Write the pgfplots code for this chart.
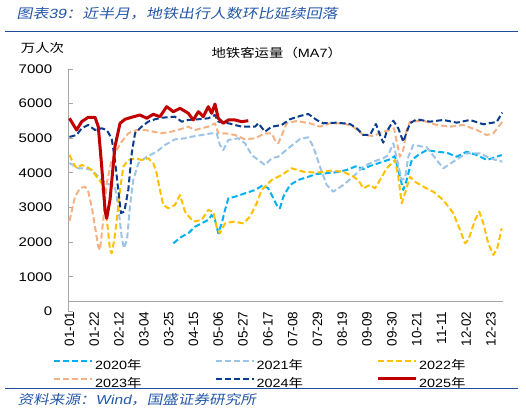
\documentclass[border=0pt]{standalone}
\usepackage{fontspec}
\usepackage{pgfplots}
\pgfplotsset{compat=1.18}
\setmainfont{Liberation Sans}[FakeStretch=1.2]
\newfontfamily\xlab{Liberation Sans}
\newfontfamily\cjk{Noto Sans CJK SC}[FakeStretch=1.2]
\newfontfamily\cjkit{Noto Sans CJK SC}[FakeStretch=1.2,FakeSlant=0.2]
\newfontfamily\latit{Liberation Sans}[FakeStretch=1.2,FakeSlant=0.2]
\definecolor{c20}{HTML}{00B0F0}
\definecolor{c21}{HTML}{9DC3E6}
\definecolor{c22}{HTML}{FFC000}
\definecolor{c23}{HTML}{F4B183}
\definecolor{c24}{HTML}{0B3B8C}
\definecolor{c25}{HTML}{C00000}
\definecolor{tblue}{HTML}{2457A7}
\definecolor{rblue}{HTML}{1F4E9C}
\definecolor{axgray}{HTML}{A6A6A6}
\begin{document}
\begin{tikzpicture}
\useasboundingbox (0pt,0pt) rectangle (526pt,413pt);
\begin{axis}[
  at={(68.3pt,101.5pt)}, anchor=south west,
  scale only axis, width=434.6pt, height=242.5pt,
  xmin=-1, xmax=367, ymin=0, ymax=7000,
  axis y line*=left, axis x line*=bottom,
  x axis line style={draw=none},
  y axis line style={-, draw=axgray, line width=1.2pt},
  ytick={0,1000,...,7000},
  xtick={0,21,42,63,84,105,126,147,168,189,210,231,252,273,294,315,336,357},
  xticklabels={01-01,01-22,02-12,03-04,03-25,04-15,05-06,05-27,06-17,07-08,07-29,08-19,09-09,09-30,10-21,11-11,12-02,12-23},
  xtick style={draw=none},
  ytick style={draw=axgray, line width=1pt},
  tick align=inside, major tick length=4.5pt,
  /pgf/number format/assume math mode=true,
  /pgf/number format/1000 sep={},
  yticklabel style={font=\fontsize{12.5}{13}\selectfont, anchor=east, inner sep=0pt, xshift=-16pt},
  xticklabel style={font=\xlab\fontsize{13.5}{14}\selectfont, rotate=90, anchor=east, inner sep=0pt},
  legend columns=3,
  legend cell align=left,
  legend image code/.code={\draw[#1] (0pt,4.3pt) -- (38pt,4.3pt);},
  legend style={draw=none, fill=none, inner sep=0pt, at={(-0.0352,-0.1938)}, anchor=north west,
    font=\fontsize{12}{13}\selectfont, nodes={inner xsep=2pt, inner ysep=1pt}, row sep=4pt,
    /tikz/every even column/.append style={text width=117.5pt}},
  every axis plot/.append style={line join=round},
]
\draw[axgray, line width=0.8pt] (axis cs:-1,300) -- (axis cs:367,300);
% 2020
\addplot[c20, line width=2pt, dash pattern=on 6pt off 3pt] coordinates {
(87.9,1969) (95,2160) (100.6,2258) (106.3,2448) (111.9,2546) (117.5,2642) (120.4,2786) (123.2,2642) (126,2258) (128.9,2546) (131.7,2930) (134.5,3268) (140.1,3314) (148.6,3412) (157.1,3508) (164.1,3652) (168.3,3557) (172.6,3268) (175.4,3075) (178.2,2979) (181,3306) (186.7,3652) (193.7,3796) (200.8,3874) (209.3,3970) (223.4,4007) (234.7,4085) (243.2,4200) (248.8,4105) (254.4,4200) (262.9,4296) (271.4,4394) (275.6,4489) (278.4,4085) (282.6,3508) (285.5,3796) (289.8,4374) (295.3,4518) (302.5,4662) (310.9,4613) (319.4,4584) (327.9,4469) (336.3,4613) (344.8,4518) (353.3,4374) (361.7,4469) (366,4518)
};
\addlegendentry{2020{\cjk 年}}
% 2021
\addplot[c21, line width=2pt, dash pattern=on 6pt off 3pt] coordinates {
(0,4287) (7.5,4134) (13.1,4134) (18.8,4085) (24.4,3892) (30.1,3701) (35.7,3652) (38.5,3603) (41.3,3026) (44.2,2160) (46.1,1825) (48.7,2064) (51.2,3026) (54,3796) (58.3,4279) (65.4,4469) (73.8,4613) (80.9,4807) (89.3,4971) (97.8,5000) (103.5,5047) (111.9,5095) (120.4,5145) (124.6,5145) (127.4,4807) (130.2,4662) (134.5,4951) (142.9,5000) (148.6,4856) (154.3,4518) (159.9,4374) (165.5,4229) (171.2,4423) (176.8,4469) (185.3,4711) (195.2,4980) (202.2,5029) (206.4,4758) (212.1,4180) (217.8,3652) (223.4,3459) (231.8,3652) (240.3,3892) (248.8,4180) (257.2,4325) (265.7,4423) (269.9,4518) (274.2,4856) (277.1,4423) (281.3,3796) (284.1,3845) (286.9,4469) (291.1,4807) (302.5,4740) (310.9,4374) (316.5,4134) (325,4325) (336.3,4567) (347.6,4567) (356,4423) (366.5,4325)
};
\addlegendentry{2021{\cjk 年}}
% 2022
\addplot[c22, line width=2pt, dash pattern=on 6pt off 3pt] coordinates {
(0,4518) (3.2,4279) (6.1,4134) (10.3,4230) (14.6,4180) (18.8,4085) (23,3892) (27.3,3701) (30.1,3026) (32.3,2448) (34.3,1776) (35.7,1680) (37.9,2064) (40,2642) (42.8,3508) (45.6,4180) (49.8,4374) (55.5,4423) (61.1,4374) (66.7,4423) (71,4279) (73.8,3990) (76.6,3508) (79.4,3075) (83.7,2979) (89.3,3075) (93.6,3363) (97.8,2881) (104.8,2593) (111.9,2642) (117.5,2930) (121.8,2881) (124.6,2448) (127.4,2258) (131.7,2546) (138.7,2593) (147.2,2546) (152.8,2737) (158.5,3124) (162.7,3508) (171.2,3796) (179.7,3941) (188.1,4134) (198,4036) (209.3,4007) (220.6,4065) (231.8,4036) (240.3,3892) (244.5,3796) (248.8,3557) (254.4,3652) (258.7,3557) (262.9,3796) (268.6,4134) (275.6,4374) (278.4,3892) (281.3,3124) (284.1,3412) (288.3,3892) (292.5,3747) (299.6,3603) (308,3459) (316.5,3219) (325,2835) (330.7,2353) (334.9,1969) (337.7,2064) (343.4,2642) (347,2881) (350.4,2546) (354.6,1969) (358.9,1631) (362.2,1825) (366,2402)
};
\addlegendentry{2022{\cjk 年}}
% 2023
\addplot[c23, line width=2pt, dash pattern=on 6pt off 3pt] coordinates {
(0,2613) (4.7,3314) (8.9,3557) (13.1,3603) (15.9,3459) (18.8,3026) (21.6,2449) (24.4,1871) (25.8,1776) (28.6,2642) (31.5,3701) (35.7,4374) (40,4662) (44.2,4902) (49.8,5145) (56.9,5240) (63.9,5240) (71,5191) (78.1,5145) (86.5,5191) (93.6,5260) (100.6,5335) (106.3,5240) (111.9,5289) (117.5,5335) (123.2,5433) (126,5145) (131.7,5145) (140.1,5095) (148.6,4971) (157.1,5000) (165.5,5145) (171.2,5145) (174,4951) (176.8,4856) (181,5191) (183.9,5433) (192.4,5500) (203.6,5433) (212.1,5335) (220.6,5433) (231.8,5433) (240.3,5335) (248.8,5095) (257.2,5067) (265.7,5191) (271.4,5240) (274.8,5289) (277.1,4902) (279.8,4469) (282.6,4662) (285.5,5240) (288.3,5480) (299.6,5508) (310.9,5384) (322.2,5335) (333.4,5384) (344.8,5240) (353.3,5095) (358.9,5145) (364.5,5384) (366.5,5480)
};
\addlegendentry{2023{\cjk 年}}
% 2024
\addplot[c24, line width=2pt, dash pattern=on 6pt off 3pt] coordinates {
(0,5040) (6,5095) (10.3,5289) (15.9,5384) (21.6,5240) (27.3,5289) (31.5,5240) (35.7,5000) (38.5,4374) (41.3,3508) (43.6,2844) (46.4,2881) (49.8,3508) (52.7,4567) (55.5,5145) (61.1,5335) (66.7,5480) (72.4,5549) (78.1,5595) (83.7,5607) (89.3,5624) (95,5480) (100.6,5529) (109.1,5549) (117.5,5578) (123.2,5673) (126,5480) (134.5,5433) (145.8,5335) (157.1,5335) (159.9,5433) (165.5,5191) (171.2,5335) (179.7,5384) (186.7,5549) (195.2,5644) (202.2,5702) (209.3,5529) (214.9,5433) (226.2,5451) (237.5,5413) (243.2,5289) (248.8,5095) (254.4,5095) (259.5,5413) (262.9,5095) (265.7,4873) (268.6,5191) (274.2,5508) (278.4,5289) (282.6,4902) (288.3,5433) (294,5549) (305.3,5480) (316.5,5529) (327.9,5451) (339.1,5529) (350.4,5404) (361.7,5471) (366.5,5740)
};
\addlegendentry{2024{\cjk 年}}
% 2025
\addplot[c25, line width=3pt] coordinates {
(0,5578) (6,5239) (10.3,5480) (15.9,5607) (21.6,5607) (24.4,5335) (27.3,4180) (30.1,2930) (31.5,2690) (34.3,3219) (38.5,4758) (42.8,5433) (47,5549) (52.7,5607) (59.7,5673) (65.4,5578) (71,5693) (76.6,5624) (82.3,5913) (87.9,5768) (93.6,5866) (100.6,5722) (104.8,5529) (109.1,5768) (113.3,5624) (117.5,5913) (120.4,5722) (123.2,5990) (126,5578) (130.2,5433) (134.5,5529) (140.1,5529) (145.8,5480) (151.4,5508)
};
\addlegendentry{2025{\cjk 年}}
\end{axis}
\node[anchor=west, inner sep=0pt, text=tblue, font=\fontsize{13.3}{14}\selectfont] at (16.5pt,399pt) {{\cjkit 图表}{\latit 39}{\cjkit ：近半月，地铁出行人数环比延续回落}};
\draw[rblue, line width=1.7pt] (5pt,381.5pt) -- (518pt,381.5pt);
\node[inner sep=0pt, font=\fontsize{12}{13}\selectfont] at (42.5pt,364.7pt) {\cjk 万人次};
\node[inner sep=0pt, font=\fontsize{12}{13}\selectfont] at (276.7pt,360.5pt) {{\cjk 地铁客运量（}MA7{\cjk ）}};
\draw[rblue, line width=1.5pt] (5pt,24.7pt) -- (518pt,24.7pt);
\node[anchor=west, inner sep=0pt, text=tblue, font=\fontsize{13}{14}\selectfont] at (17.5pt,13pt) {{\cjkit 资料来源：}{\latit Wind}{\cjkit ，国盛证券研究所}};
\end{tikzpicture}
\end{document}
